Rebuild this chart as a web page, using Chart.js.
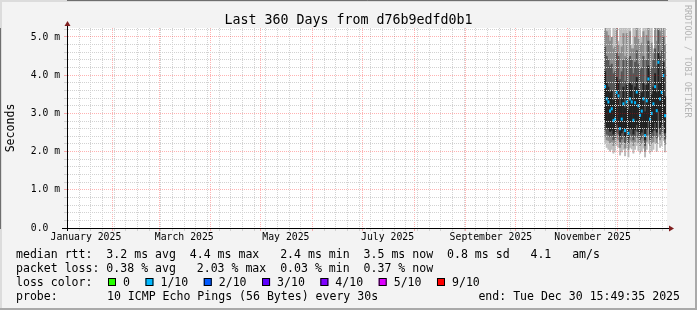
<!DOCTYPE html>
<html>
<head>
<meta charset="utf-8">
<script src="https://cdn.jsdelivr.net/npm/chart.js@4.4.1/dist/chart.umd.min.js"></script>
<style>
html, body { margin: 0; padding: 0; background: #f3f3f3; }
canvas { display: block; }
</style>
</head>
<body>
<canvas id="mychart" width="697" height="310"></canvas>
<script>
// tekst
const graphTitle = 'Last 360 Days from d76b9edfd0b1';
const yTitle = 'Seconds';
const watermark = 'RRDTOOL / TOBI OETIKER';
const monthLabels = ['January 2025', 'March 2025', 'May 2025', 'July 2025', 'September 2025', 'November 2025'];
const yTickLabels = ['0.0  ', '1.0 m', '2.0 m', '3.0 m', '4.0 m', '5.0 m'];

// dager med målinger (ett punkt per dag)
const days = [
  '2025-11-23', '2025-11-24', '2025-11-25', '2025-11-26', '2025-11-27', '2025-11-28', '2025-11-29',
  '2025-11-30', '2025-12-01', '2025-12-02', '2025-12-03', '2025-12-04', '2025-12-05', '2025-12-06',
  '2025-12-07', '2025-12-08', '2025-12-09', '2025-12-10', '2025-12-11', '2025-12-12', '2025-12-13',
  '2025-12-14', '2025-12-15', '2025-12-16', '2025-12-17', '2025-12-18', '2025-12-19', '2025-12-20',
  '2025-12-21', '2025-12-22', '2025-12-23', '2025-12-24', '2025-12-25', '2025-12-26', '2025-12-27',
  '2025-12-28', '2025-12-29'
];

// median rtt (ms)
const median = [3.70, 3.38, 3.30, 3.06, 3.12, 2.81, 2.85, 3.55, 3.46, 2.60, 2.85, 3.25, 2.55, 3.30, 2.48, 3.38, 3.30, 2.82, 3.28,
  3.56, 3.20, 2.95, 3.06, 3.38, 2.42, 3.33, 3.90, 2.85, 3.00, 3.25, 3.70, 3.07, 4.34, 3.38, 3.55, 3.99, 2.94];

// røyk: min/max og de indre pingene
const minRtt = [2.20, 2.10, 2.05, 2.00, 2.05, 1.95, 2.00, 2.15, 2.10, 1.90, 1.98, 2.05, 1.88, 2.08, 1.85, 2.10, 2.06, 1.95, 2.05,
  2.15, 2.02, 1.95, 2.00, 2.08, 1.85, 2.05, 2.22, 1.95, 2.00, 2.05, 2.20, 2.00, 2.40, 2.10, 2.15, 2.28, 1.98];
const maxRtt = [6.0, 6.0, 5.8, 6.0, 5.0, 6.0, 6.0, 6.0, 4.9, 6.0, 6.0, 6.0, 5.8, 6.0, 6.0, 6.0, 4.8, 6.0, 6.0,
  6.0, 6.0, 6.0, 5.0, 6.0, 6.0, 6.0, 6.0, 6.0, 6.0, 4.7, 6.0, 6.0, 6.0, 6.0, 6.0, 6.0, 6.0];
const lo2 = [2.38, 2.30, 2.28, 2.22, 2.25, 2.15, 2.20, 2.35, 2.30, 2.10, 2.18, 2.25, 2.08, 2.28, 2.05, 2.30, 2.26, 2.15, 2.25,
  2.36, 2.22, 2.15, 2.20, 2.28, 2.00, 2.26, 2.42, 2.15, 2.20, 2.25, 2.40, 2.20, 2.60, 2.30, 2.36, 2.48, 2.18];
const hi2 = [5.40, 5.15, 5.05, 4.90, 5.00, 4.70, 4.75, 5.30, 4.80, 4.60, 4.75, 5.10, 4.50, 5.10, 4.45, 5.15, 4.70, 4.70, 5.00,
  5.35, 4.95, 4.80, 4.85, 5.15, 4.40, 5.05, 5.60, 4.75, 4.85, 4.60, 5.40, 4.90, 5.80, 5.15, 5.30, 5.70, 4.80];
const lo3 = [2.55, 2.45, 2.42, 2.38, 2.40, 2.30, 2.35, 2.50, 2.45, 2.25, 2.32, 2.40, 2.22, 2.42, 2.20, 2.45, 2.40, 2.30, 2.40,
  2.52, 2.36, 2.30, 2.35, 2.44, 2.15, 2.42, 2.60, 2.30, 2.35, 2.40, 2.55, 2.35, 2.80, 2.45, 2.52, 2.65, 2.32];
const hi3 = [4.75, 4.50, 4.40, 4.25, 4.30, 4.05, 4.10, 4.60, 4.50, 3.90, 4.10, 4.40, 3.85, 4.45, 3.80, 4.50, 4.40, 4.05, 4.35,
  4.65, 4.30, 4.15, 4.20, 4.50, 3.75, 4.40, 4.90, 4.10, 4.20, 4.40, 4.70, 4.25, 5.20, 4.50, 4.65, 5.00, 4.15];
const lo4 = [2.75, 2.62, 2.58, 2.52, 2.55, 2.45, 2.50, 2.70, 2.62, 2.40, 2.48, 2.55, 2.38, 2.60, 2.35, 2.62, 2.58, 2.45, 2.56,
  2.70, 2.52, 2.45, 2.50, 2.60, 2.30, 2.58, 2.80, 2.45, 2.50, 2.55, 2.75, 2.50, 3.05, 2.60, 2.70, 2.85, 2.48];
const hi4 = [4.10, 3.80, 3.70, 3.55, 3.60, 3.35, 3.40, 3.95, 3.85, 3.20, 3.40, 3.70, 3.15, 3.75, 3.10, 3.80, 3.75, 3.35, 3.70,
  3.95, 3.65, 3.45, 3.55, 3.80, 3.05, 3.75, 4.25, 3.40, 3.50, 3.70, 4.05, 3.55, 4.60, 3.80, 3.95, 4.35, 3.45];

// legende
const statLines = [
  'median rtt:  3.2 ms avg  4.4 ms max   2.4 ms min  3.5 ms now  0.8 ms sd   4.1   am/s',
  'packet loss: 0.38 % avg   2.03 % max  0.03 % min  0.37 % now'
];
const lossTitle = 'loss color:';
const lossNames = ['0', '1/10', '2/10', '3/10', '4/10', '5/10', '9/10'];
const lossColors = ['#26ff00', '#00b8ff', '#0059ff', '#5e00ff', '#7e00ff', '#dd00ff', '#ff0000'];
const probeTitle = 'probe:';
const probeText = '10 ICMP Echo Pings (56 Bytes) every 30s';
const endText = 'end: Tue Dec 30 15:49:35 2025';

// tidsakse: dager siden start av grafen
const t0 = Date.UTC(2025, 0, 4, 15, 49, 35);
const DAY = 86400000;
const toDay = t => (t - t0) / DAY;
const xs = days.map(d => toDay(Date.parse(d + 'T12:00:00Z')));

// rutenett: søndager (grå), månedsskifte (rød), etikett midt i måneden
const xInfo = new Map();
for (let t = Date.UTC(2025, 0, 5); t < t0 + 360 * DAY; t += 7 * DAY) {
  xInfo.set(toDay(t), { grid: 'minor', text: '' });
}
for (let m = 1; m < 12; m++) {
  const v = toDay(Date.UTC(2025, m, 1));
  xInfo.set(v, { grid: 'major', text: '' });
}
monthLabels.forEach((name, i) => {
  const v = toDay(Date.UTC(2025, i * 2, 16));
  const old = xInfo.get(v);
  xInfo.set(v, { grid: old ? old.grid : null, text: name });
});
const xTickValues = Array.from(xInfo.keys()).sort((a, b) => a - b);

const MONO = 'DejaVu Sans Mono';
const minorCol = '#d2d2d2';
const majorCol = 'rgba(255,0,0,0.3)';
const smokeCols = ['#bdbdbd', '#8c8c8c', '#555555', '#222222'];

Chart.defaults.font.family = MONO;
Chart.defaults.color = '#000';

function band(lo, hi) {
  return xs.map((x, i) => ({ x: x, y: [lo[i], hi[i]] }));
}

//tegner bakgrunn, ramme, piler, tittel og legende
const rrdFrame = {
  id: 'rrdFrame',
  beforeDraw(chart) {
    const c = chart.ctx, a = chart.chartArea, W = chart.width, H = chart.height;
    c.save();
    c.fillStyle = '#f3f3f3';
    c.fillRect(0, 0, W, H);
    c.fillStyle = '#dcdcdc';
    c.fillRect(0, 0, W, 2);
    c.fillRect(0, 0, 2, H);
    c.fillStyle = '#a9a9a9';
    c.fillRect(0, H - 2, W, 2);
    c.fillRect(W - 2, 0, 2, H);
    c.fillStyle = '#ffffff';
    c.fillRect(a.left, a.top, a.right - a.left, a.bottom - a.top);
    c.restore();
  },
  afterDraw(chart) {
    const c = chart.ctx, a = chart.chartArea;
    c.save();
    // akser med piler
    const ax = Math.round(a.left) + 0.5, ay = Math.round(a.bottom) + 0.5;
    c.strokeStyle = '#000';
    c.lineWidth = 1;
    c.beginPath();
    c.moveTo(ax, a.bottom + 3);
    c.lineTo(ax, a.top - 2);
    c.moveTo(a.left - 5, ay);
    c.lineTo(a.right + 2, ay);
    c.stroke();
    c.fillStyle = '#7f1f1f';
    c.beginPath();
    c.moveTo(ax - 3, a.top - 2);
    c.lineTo(ax + 3, a.top - 2);
    c.lineTo(ax, a.top - 7);
    c.closePath();
    c.fill();
    c.beginPath();
    c.moveTo(a.right + 2, ay - 3);
    c.lineTo(a.right + 2, ay + 3);
    c.lineTo(a.right + 7, ay);
    c.closePath();
    c.fill();

    // tittel
    c.fillStyle = '#000';
    c.font = '13.3px "' + MONO + '"';
    c.textAlign = 'center';
    c.textBaseline = 'alphabetic';
    c.fillText(graphTitle, chart.width / 2, 24.3);

    // vannmerke
    c.save();
    c.translate(687.5, 5);
    c.rotate(Math.PI / 2);
    c.fillStyle = '#b4b4b4';
    c.font = '8.5px "' + MONO + '"';
    c.textAlign = 'left';
    c.textBaseline = 'middle';
    c.fillText(watermark, 0, 0);
    c.restore();

    // legende
    c.font = '11.55px "' + MONO + '"';
    c.textAlign = 'left';
    c.textBaseline = 'alphabetic';
    c.fillStyle = '#000';
    c.fillText(statLines[0], 16, 258);
    c.fillText(statLines[1], 16, 272);
    c.fillText(lossTitle, 16, 286);
    let x = 108;
    lossNames.forEach((name, i) => {
      c.fillStyle = lossColors[i];
      c.fillRect(x, 278, 8, 8);
      c.strokeStyle = '#000';
      c.strokeRect(x + 0.5, 278.5, 7, 7);
      c.fillStyle = '#000';
      c.fillText(name, x + 15, 286);
      x += 15 + c.measureText(name).width + 15.5;
    });
    c.fillText(probeTitle, 16, 300);
    c.fillText(probeText, 107, 300);
    c.textAlign = 'right';
    c.fillText(endText, 680, 300);
    c.restore();
  }
};

const ctx = document.getElementById('mychart');
const mychart = new Chart(ctx, {
  type: 'bar',
  data: {
    datasets: [
      { label: 'median', data: band(median.map(v => v - 0.04), median.map(v => v + 0.04)), backgroundColor: lossColors[1], order: 0 },
      { label: 'smoke4', data: band(lo4, hi4), backgroundColor: smokeCols[3], order: 1 },
      { label: 'smoke3', data: band(lo3, hi3), backgroundColor: smokeCols[2], order: 2 },
      { label: 'smoke2', data: band(lo2, hi2), backgroundColor: smokeCols[1], order: 3 },
      { label: 'smoke1', data: band(minRtt, maxRtt), backgroundColor: smokeCols[0], order: 4 }
    ]
  },
  options: {
    responsive: false,
    animation: false,
    devicePixelRatio: 1,
    grouped: false,
    barPercentage: 1.2,
    categoryPercentage: 1,
    borderWidth: 0,
    layout: { padding: { top: 28, right: 30, bottom: 0, left: 0 } },
    plugins: {
      legend: { display: false },
      tooltip: { enabled: false },
      title: { display: false }
    },
    scales: {
      x: {
        type: 'linear',
        min: 0,
        max: 360,
        offset: false,
        afterBuildTicks: scale => { scale.ticks = xTickValues.map(v => ({ value: v })); },
        afterFit: scale => { scale.height = 82; },
        ticks: {
          autoSkip: false,
          maxRotation: 0,
          padding: 1,
          font: { size: 9.8, family: MONO },
          color: '#000',
          callback: v => { const k = xInfo.get(v); return k ? k.text : ''; }
        },
        grid: {
          offset: false,
          z: 1,
          tickLength: 3,
          color: c => {
            const k = c.tick ? xInfo.get(c.tick.value) : null;
            if (!k || !k.grid) return 'rgba(0,0,0,0)';
            return k.grid === 'major' ? majorCol : minorCol;
          }
        },
        border: { display: true, color: '#000', width: 1, dash: [1, 1] }
      },
      y: {
        type: 'linear',
        min: 0,
        max: 200 / 38.2,
        afterBuildTicks: scale => {
          const t = [];
          for (let i = 0; i <= 26; i++) t.push({ value: i / 5 });
          scale.ticks = t;
        },
        afterFit: scale => { scale.width = 67; },
        ticks: {
          autoSkip: false,
          padding: 4,
          font: { size: 9.7, family: MONO },
          color: '#000',
          callback: v => { const i = Math.round(v * 5); return i % 5 === 0 ? yTickLabels[i / 5] : ''; }
        },
        grid: {
          z: 1,
          tickLength: 3,
          color: c => {
            if (!c.tick) return 'rgba(0,0,0,0)';
            return Math.round(c.tick.value * 5) % 5 === 0 ? majorCol : minorCol;
          }
        },
        border: { display: true, color: '#000', width: 1, dash: [1, 1] },
        title: {
          display: true,
          text: yTitle,
          color: '#000',
          font: { size: 11.55, family: MONO },
          padding: { top: 4, bottom: 0 }
        }
      }
    }
  },
  plugins: [rrdFrame]
});
</script>
</body>
</html>
